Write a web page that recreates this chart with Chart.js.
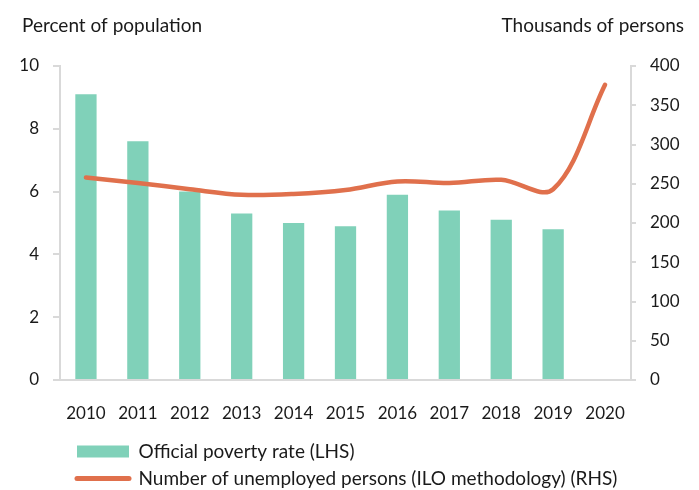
<!DOCTYPE html>
<html lang="en">
<head>
<meta charset="UTF-8">
<title>Poverty rate and unemployment</title>
<script src="https://cdn.jsdelivr.net/npm/chart.js"></script>
<style>
  html, body { margin: 0; padding: 0; background: #fff; }
</style>
</head>
<body>
<canvas id="chart" width="699" height="490"></canvas>
<script>
// data
const years = ['2010', '2011', '2012', '2013', '2014', '2015', '2016', '2017', '2018', '2019', '2020'];
const povertyRate = [9.1, 7.6, 6.0, 5.3, 5.0, 4.9, 5.9, 5.4, 5.1, 4.8, null];
const unemployed = [258, 251, 243, 236, 237, 242, 253, 251, 255, 243, 376];
const leftTitle = 'Percent of population';
const rightTitle = 'Thousands of persons';
const povertyLabel = 'Official poverty rate (LHS)';
const unemployedLabel = 'Number of unemployed persons (ILO methodology) (RHS)';

const FONT = 'Lato';
const TEXT = '#1a1a1a';
const AXIS = '#d9d9d9';
const TEAL = '#80d1b9';
const ORANGE = '#e0704c';

// axis titles sit above the plot, one on each side
const axisTitles = {
    id: 'axisTitles',
    afterDraw(chart) {
        const ctx = chart.ctx;
        ctx.save();
        ctx.font = '19px ' + FONT;
        ctx.fillStyle = TEXT;
        ctx.textBaseline = 'alphabetic';
        ctx.textAlign = 'left';
        ctx.fillText(leftTitle, 22, 32);
        ctx.textAlign = 'right';
        ctx.fillText(rightTitle, 684, 32);
        ctx.restore();
    }
};

// the reference legend is indented and sits a bit lower than chart.js puts it
const legendPlace = {
    id: 'legendPlace',
    afterLayout(chart) {
        const lg = chart.legend;
        const h = lg.height;
        lg.left = 69;
        lg.right = 699;
        lg.top = 434;
        lg.bottom = lg.top + h;
    }
};

new Chart(document.getElementById('chart'), {
    data: {
        labels: years,
        datasets: [
            {
                type: 'line',
                label: unemployedLabel,
                data: unemployed,
                yAxisID: 'y1',
                borderColor: ORANGE,
                borderWidth: 4.5,
                borderCapStyle: 'round',
                tension: 0.35,
                pointRadius: 0,
                order: 0
            },
            {
                type: 'bar',
                label: povertyLabel,
                data: povertyRate,
                yAxisID: 'y',
                backgroundColor: TEAL,
                categoryPercentage: 1,
                barPercentage: 0.41,
                order: 1
            }
        ]
    },
    options: {
        responsive: false,
        animation: false,
        devicePixelRatio: 1,
        layout: { padding: { top: 66, left: 0, right: 0, bottom: 1 } },
        plugins: {
            tooltip: { enabled: false },
            legend: {
                position: 'bottom',
                align: 'start',
                reverse: true,
                labels: {
                    usePointStyle: true,
                    pointStyleWidth: 52,
                    boxHeight: 12,
                    padding: 8,
                    color: TEXT,
                    font: { family: FONT, size: 19 },
                    generateLabels(chart) {
                        return chart.data.datasets.map((ds, i) => ({
                            text: ds.label,
                            datasetIndex: i,
                            fillStyle: ds.type === 'bar' ? TEAL : ORANGE,
                            strokeStyle: ds.type === 'bar' ? TEAL : ORANGE,
                            lineWidth: ds.type === 'bar' ? 0 : 5,
                            lineCap: 'round',
                            pointStyle: ds.type === 'bar' ? 'rect' : 'line',
                            fontColor: TEXT,
                            hidden: false
                        }));
                    }
                }
            }
        },
        scales: {
            x: {
                offset: true,
                grid: { display: false },
                border: { display: true, color: AXIS, width: 2 },
                ticks: {
                    color: TEXT,
                    font: { family: FONT, size: 17 },
                    padding: 15,
                    maxRotation: 0,
                    autoSkip: false
                },
                afterFit(scale) { scale.height = 45; }
            },
            y: {
                position: 'left',
                min: 0,
                max: 10,
                ticks: {
                    stepSize: 2,
                    color: TEXT,
                    font: { family: FONT, size: 17 },
                    padding: 14
                },
                grid: { drawOnChartArea: false, drawTicks: true, tickLength: 7, color: AXIS, lineWidth: 2 },
                border: { color: AXIS, width: 2 },
                afterFit(scale) { scale.width = 60; }
            },
            y1: {
                position: 'right',
                min: 0,
                max: 400,
                ticks: {
                    stepSize: 50,
                    color: TEXT,
                    font: { family: FONT, size: 17 },
                    padding: 14
                },
                grid: { drawOnChartArea: false, drawTicks: true, tickLength: 5, color: AXIS, lineWidth: 2 },
                border: { color: AXIS, width: 2 },
                afterFit(scale) { scale.width = 68; }
            }
        }
    },
    plugins: [axisTitles, legendPlace]
});
</script>
</body>
</html>
